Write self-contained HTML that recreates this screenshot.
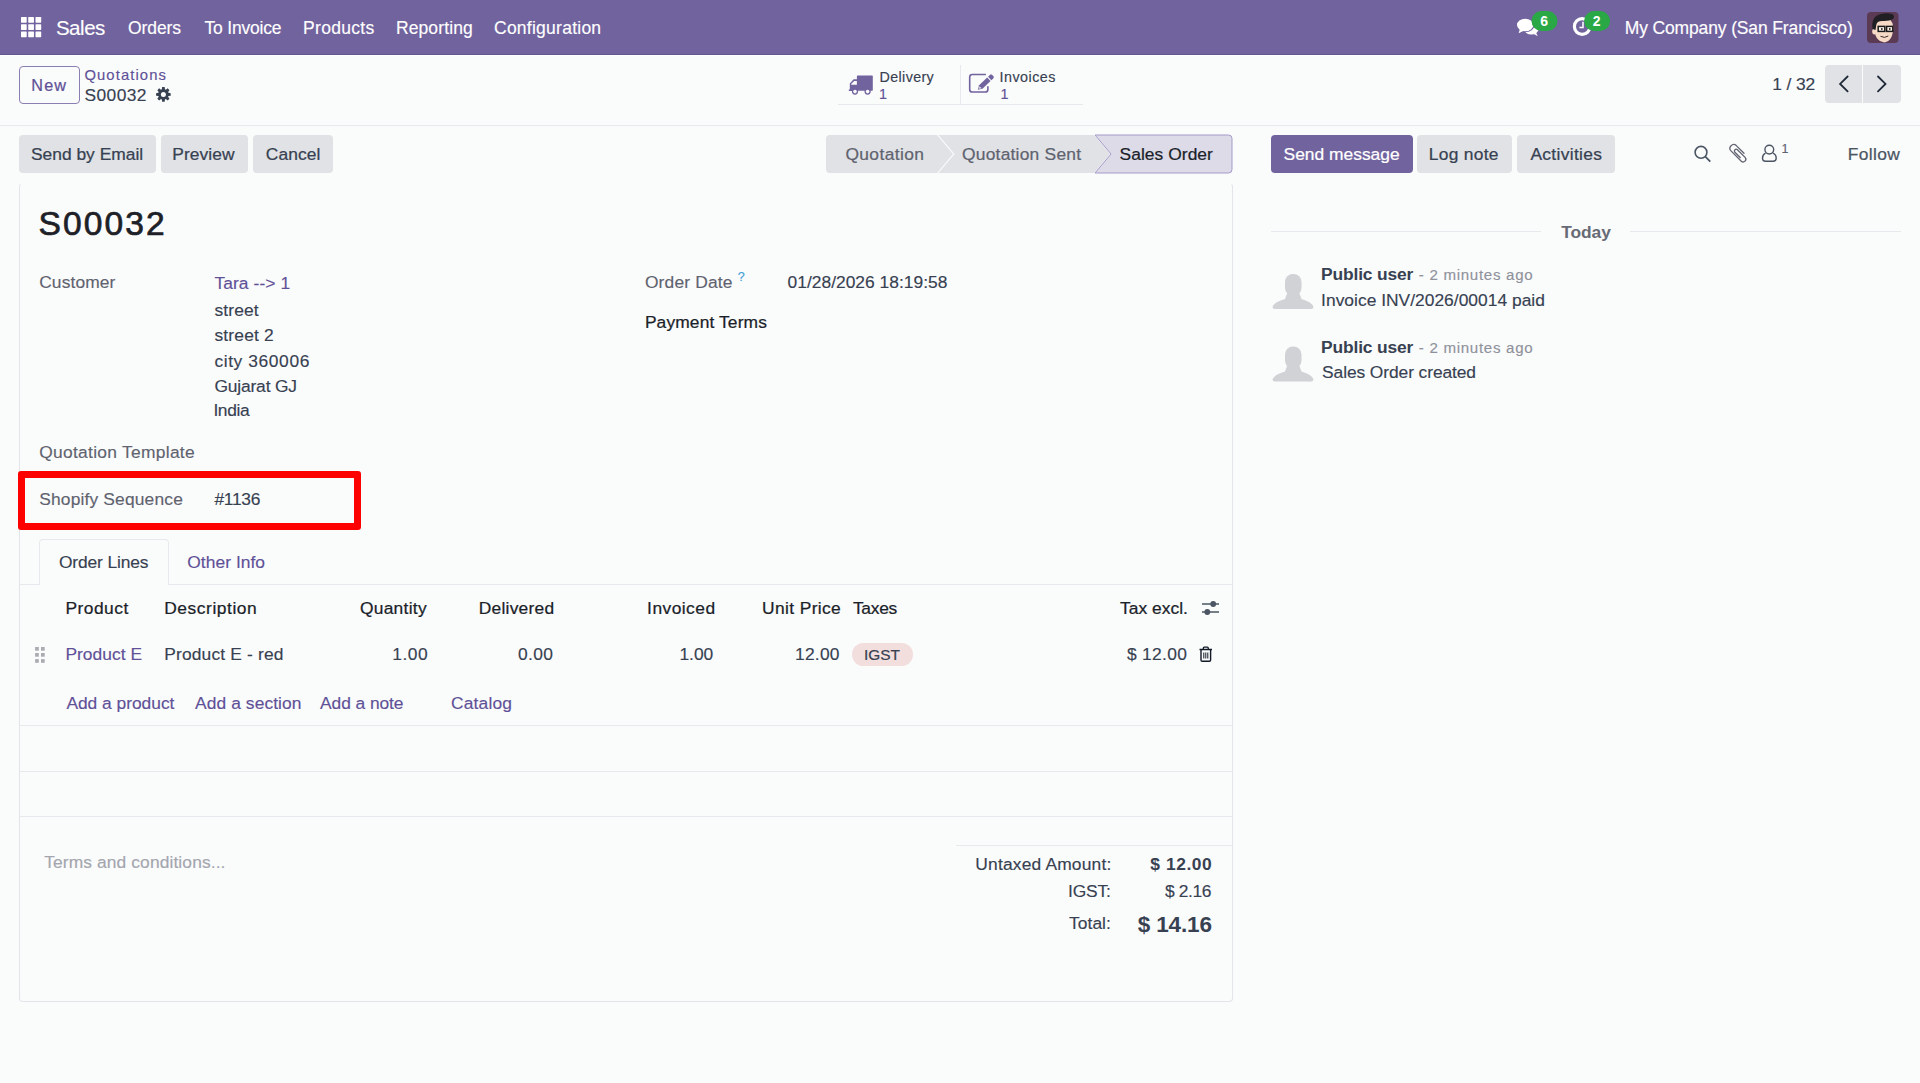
<!DOCTYPE html>
<html><head><meta charset="utf-8"><title>S00032</title><style>
html,body{margin:0;padding:0}
body{width:1920px;height:1083px;overflow:hidden;background:#fafbfb;position:relative;font-family:"Liberation Sans",sans-serif;color:#374151}
.s{position:absolute}
.t{position:absolute;white-space:nowrap;color:#374151;-webkit-text-stroke:0.15px currentColor}
.bl{display:inline-block;width:0;height:0;vertical-align:baseline}
svg{position:absolute;left:0;top:0}
.nav{color:#fff}
.badge{color:#fff;font-weight:bold;-webkit-text-stroke:0px}
.link{color:#5f5197}
.md{-webkit-text-stroke:0.24px currentColor}
.bold{font-weight:bold;-webkit-text-stroke:0px}
.gray{color:#5f636f}
.gray2{color:#4b5563}
.gray3{color:#676b75}
.dark{color:#1a1f29}
.white{color:#fff}
.muted{color:#8f929b}
.light{color:#a3a6ae}
.blue{color:#3f9fd6}
.title{color:#1d2127;-webkit-text-stroke:0.7px #1d2127}
.tag{color:#374151}
.big{color:#374151}
</style></head>
<body>
<div class="s" style="left:0px;top:0px;width:1920px;height:54px;background:#71639e"></div><div class="s" style="left:0px;top:54px;width:1920px;height:1px;background:#64578f"></div><div class="s" style="left:0px;top:55px;width:1920px;height:1px;background:#ffffff"></div><div class="s" style="left:0px;top:125px;width:1920px;height:1px;background:#e7e9ed"></div><div class="s" style="left:19px;top:66px;width:61px;height:38px;border:1px solid #8a7fb3;border-radius:4px;box-sizing:border-box"></div><div class="s" style="left:838px;top:104px;width:245px;height:1px;background:#e7e9ed"></div><div class="s" style="left:960px;top:65px;width:1px;height:39px;background:#e7e9ed"></div><div class="s" style="left:1825px;top:65px;width:37px;height:38px;background:#e0e2e6;border-radius:4px 0 0 4px"></div><div class="s" style="left:1863px;top:65px;width:38px;height:38px;background:#e0e2e6;border-radius:0 4px 4px 0"></div><div class="s" style="left:19px;top:135px;width:137px;height:38px;background:#e0e2e6;border-radius:4px"></div><div class="s" style="left:161px;top:135px;width:87px;height:38px;background:#e0e2e6;border-radius:4px"></div><div class="s" style="left:253px;top:135px;width:80px;height:38px;background:#e0e2e6;border-radius:4px"></div><div class="s" style="left:1271px;top:135px;width:142px;height:38px;background:#71639e;border-radius:4px"></div><div class="s" style="left:1417px;top:135px;width:95px;height:38px;background:#e0e2e6;border-radius:4px"></div><div class="s" style="left:1517px;top:135px;width:98px;height:38px;background:#e0e2e6;border-radius:4px"></div><div class="s" style="left:1271px;top:231px;width:270px;height:1px;background:#e7e9ed"></div><div class="s" style="left:1630px;top:231px;width:271px;height:1px;background:#e7e9ed"></div><div class="s" style="left:19px;top:183px;width:1214px;height:819px;border:1px solid #e3e5ea;border-top-color:transparent;border-radius:4px;box-sizing:border-box"></div><div class="s" style="left:18px;top:471px;width:343px;height:59px;border:7px solid #ff0000;border-radius:3px;box-sizing:border-box"></div><div class="s" style="left:20px;top:584px;width:1212px;height:1px;background:#e7e9ed"></div><div class="s" style="left:39px;top:539px;width:130px;height:46px;border:1px solid #e7e9ed;border-bottom:none;border-radius:4px 4px 0 0;box-sizing:border-box;background:#fafbfb"></div><div class="s" style="left:20px;top:725px;width:1212px;height:1px;background:#e7e9ed"></div><div class="s" style="left:20px;top:771px;width:1212px;height:1px;background:#e7e9ed"></div><div class="s" style="left:20px;top:816px;width:1212px;height:1px;background:#e7e9ed"></div><div class="s" style="left:956px;top:845px;width:276px;height:1px;background:#e7e9ed"></div><div class="s" style="left:852px;top:643px;width:61px;height:23px;background:#f3dede;border-radius:12px"></div>
<svg width="1920" height="1083" viewBox="0 0 1920 1083">
<rect x="21.00" y="17.00" width="5.7" height="5.7" rx="0.6" fill="#fff"/><rect x="21.00" y="24.25" width="5.7" height="5.7" rx="0.6" fill="#fff"/><rect x="21.00" y="31.50" width="5.7" height="5.7" rx="0.6" fill="#fff"/><rect x="28.25" y="17.00" width="5.7" height="5.7" rx="0.6" fill="#fff"/><rect x="28.25" y="24.25" width="5.7" height="5.7" rx="0.6" fill="#fff"/><rect x="28.25" y="31.50" width="5.7" height="5.7" rx="0.6" fill="#fff"/><rect x="35.50" y="17.00" width="5.7" height="5.7" rx="0.6" fill="#fff"/><rect x="35.50" y="24.25" width="5.7" height="5.7" rx="0.6" fill="#fff"/><rect x="35.50" y="31.50" width="5.7" height="5.7" rx="0.6" fill="#fff"/><g fill="#fff">
<ellipse cx="1531.3" cy="29.3" rx="7.2" ry="5.3"/>
<path d="M1533,33.5 L1537.8,36.2 L1535.5,31.5 Z"/>
</g>
<ellipse cx="1525.2" cy="25" rx="9.2" ry="7.3" fill="#71639e"/>
<path d="M1519.2,29.5 L1517.8,34 L1524,31.2 Z" fill="#71639e" stroke="#71639e" stroke-width="1.2"/>
<g fill="#fff">
<ellipse cx="1525.2" cy="25" rx="8.2" ry="6.3"/>
<path d="M1519.8,29.5 L1518.6,33.3 L1523.8,30.8 Z"/>
</g><circle cx="1582.2" cy="26.5" r="7.8" fill="none" stroke="#fff" stroke-width="3.2"/>
<path d="M1583,21.8 V27.6 H1579.4" fill="none" stroke="#fff" stroke-width="1.5"/><rect x="1531.5" y="11.1" width="26" height="19.8" rx="9.9" fill="#2aa845"/><rect x="1584.1" y="11.1" width="26" height="19.8" rx="9.9" fill="#2aa845"/><rect x="1867" y="12" width="31.5" height="31" rx="4" fill="#5b3a54"/>
<path d="M1874.5,27 Q1874,41 1884.5,42.4 Q1893,41 1893.3,27 Q1892.5,18 1884,18 Q1875,18 1874.5,27Z" fill="#f7dbc6"/>
<ellipse cx="1874.3" cy="31.5" rx="2.1" ry="2.9" fill="#f7dbc6"/>
<path d="M1872.5,29 Q1871,18 1878,15 Q1886,12 1893,14.5 Q1895,16.5 1893,19 Q1889,21.5 1882,21 Q1877.5,21 1876.5,24 Q1876,27 1875.5,30 Z" fill="#1f1f24"/>
<rect x="1878.2" y="26.4" width="6.6" height="5" fill="#fdf3ea" stroke="#1a1a1a" stroke-width="1.5"/>
<rect x="1886.6" y="26.4" width="6.2" height="5" fill="#fdf3ea" stroke="#1a1a1a" stroke-width="1.5"/>
<circle cx="1881.8" cy="29" r="0.9" fill="#222"/><circle cx="1889.8" cy="29" r="0.9" fill="#222"/>
<path d="M1880.5,36.3 Q1884.5,38.6 1888.3,36" fill="none" stroke="#3a2a2a" stroke-width="1"/><path d="M161.83,89.34 L162.15,87.11 L164.65,87.11 L164.97,89.34 L165.87,89.71 L167.67,88.36 L169.44,90.13 L168.09,91.93 L168.46,92.83 L170.69,93.15 L170.69,95.65 L168.46,95.97 L168.09,96.87 L169.44,98.67 L167.67,100.44 L165.87,99.09 L164.97,99.46 L164.65,101.69 L162.15,101.69 L161.83,99.46 L160.93,99.09 L159.13,100.44 L157.36,98.67 L158.71,96.87 L158.34,95.97 L156.11,95.65 L156.11,93.15 L158.34,92.83 L158.71,91.93 L157.36,90.13 L159.13,88.36 L160.93,89.71 Z" fill="#374151"/><circle cx="163.4" cy="94.4" r="2.5" fill="#fafbfb"/><g fill="#71639e">
<rect x="856.9" y="75.4" width="15.9" height="15.4" rx="0.7"/>
<path d="M848.8,91 V89.6 H849.8 V83.6 L853.6,79.2 H857.5 V91 Z"/>
<circle cx="855" cy="91.6" r="3.1"/><circle cx="867.6" cy="91.6" r="3.1"/>
</g>
<path d="M851.2,84.7 V83.9 L854.2,80.9 H856.9 V84.7 Z" fill="#fafbfb"/>
<circle cx="855" cy="91.6" r="1.8" fill="#fafbfb"/><circle cx="867.6" cy="91.6" r="1.8" fill="#fafbfb"/><path d="M985.9,74.5 H972.3 Q969.7,74.5 969.7,77.1 V89.4 Q969.7,92 972.3,92 H985.3 Q987.9,92 987.9,89.4 V86.3" fill="none" stroke="#71639e" stroke-width="1.6"/>
<path d="M977.90,89.80 L979.12,85.30 L987.20,77.54 L990.52,81.00 L982.45,88.76Z" fill="#71639e"/><path d="M988.06,76.71 L990.37,74.49 L991.78,74.52 L993.72,76.54 L993.69,77.95 L991.39,80.17Z" fill="#71639e"/><path d="M979.05,88.69 L979.59,86.37 L981.40,88.24Z" fill="#fafbfb"/><path d="M1847.6,76.5 L1840.1,83.9 L1847.6,91.3" fill="none" stroke="#1f2937" stroke-width="1.8" stroke-linecap="round" stroke-linejoin="miter"/>
<path d="M1878,76.5 L1885.5,83.9 L1878,91.3" fill="none" stroke="#1f2937" stroke-width="1.8" stroke-linecap="round" stroke-linejoin="miter"/><path d="M830,135 H937 L953,154 L937,173 H830 Q826,173 826,169 V139 Q826,135 830,135Z" fill="#e0e2e6"/>
<path d="M938.5,135 H1094 L1110,154 L1094,173 H938.5 L954.5,154 Z" fill="#e0e2e6"/>
<path d="M1095,135 H1228.5 Q1232,135 1232,138.5 V169.5 Q1232,173 1228.5,173 H1095 L1111,154 Z" fill="#dedbe9" stroke="#a49bc9" stroke-width="1"/><circle cx="1701" cy="152.3" r="5.9" fill="none" stroke="#4b5563" stroke-width="1.6"/>
<path d="M1705.3,156.6 L1710.3,161.6" stroke="#4b5563" stroke-width="1.8"/>
<path d="M1744,153.3 L1736.3,145.6 A3.75,3.75 0 0 0 1731,150.9 L1741.3,161.2 A2.69,2.69 0 0 0 1745.1,157.4 L1737.4,149.7 A1.77,1.77 0 0 0 1734.9,152.2 L1740.2,157.5" fill="none" stroke="#5f636f" stroke-width="1.3" stroke-linecap="round"/>
<circle cx="1769.3" cy="149.6" r="4.4" fill="none" stroke="#4b5563" stroke-width="1.4"/>
<path d="M1765.5,153.2 Q1762.5,154.5 1762.5,158.3 Q1762.5,161.3 1765.5,161.3 H1773 Q1776.2,161.3 1776.2,158.3 Q1776.2,154.5 1773,153.2" fill="none" stroke="#4b5563" stroke-width="1.4"/><g fill="#d1d2d6"><rect x="1285" y="273.9" width="16.5" height="22" rx="8"/>
<path d="M1288,290.9 L1285,298.9 Q1274,301.9 1272.5,306.9 Q1272.5,308.9 1275,308.9 H1311 Q1313.5,308.9 1313.5,306.9 Q1312,301.9 1301.5,298.9 L1298.5,290.9 Z"/></g><g fill="#d1d2d6"><rect x="1285" y="346.5" width="16.5" height="22" rx="8"/>
<path d="M1288,363.5 L1285,371.5 Q1274,374.5 1272.5,379.5 Q1272.5,381.5 1275,381.5 H1311 Q1313.5,381.5 1313.5,379.5 Q1312,374.5 1301.5,371.5 L1298.5,363.5 Z"/></g><rect x="35.1" y="647.0" width="3.7" height="3.7" fill="#aaacb2"/><rect x="35.1" y="653.0" width="3.7" height="3.7" fill="#aaacb2"/><rect x="35.1" y="659.1" width="3.7" height="3.7" fill="#aaacb2"/><rect x="41.0" y="647.0" width="3.7" height="3.7" fill="#aaacb2"/><rect x="41.0" y="653.0" width="3.7" height="3.7" fill="#aaacb2"/><rect x="41.0" y="659.1" width="3.7" height="3.7" fill="#aaacb2"/><path d="M1202,604 H1219 M1202,612 H1219" stroke="#4b5563" stroke-width="1.4"/>
<circle cx="1213.2" cy="604" r="2.9" fill="#4b5563"/><circle cx="1207.3" cy="612" r="2.9" fill="#4b5563"/><path d="M1199.5,649.5 H1212" stroke="#111827" stroke-width="1.5"/>
<path d="M1203.3,649.3 V648.2 Q1203.3,647.2 1204.3,647.2 H1207.3 Q1208.3,647.2 1208.3,648.2 V649.3" fill="none" stroke="#111827" stroke-width="1.3"/>
<path d="M1201,650 V660 Q1201,661.3 1202.3,661.3 H1209.3 Q1210.6,661.3 1210.6,660 V650" fill="none" stroke="#111827" stroke-width="1.4"/>
<path d="M1203.8,652.5 V658.5 M1205.8,652.5 V658.5 M1207.8,652.5 V658.5" stroke="#111827" stroke-width="1"/>
</svg>
<div class="t brand nav" id="brand" style="left:55.89px;top:18.21px;font-size:20.5px;line-height:20.5px;letter-spacing:-0.450px">Sales<i class="bl"></i></div>
<div class="t nav" id="m1" style="left:128.00px;top:19.50px;font-size:17.5px;line-height:17.5px;letter-spacing:-0.080px">Orders<i class="bl"></i></div>
<div class="t nav" id="m2" style="left:204.60px;top:19.50px;font-size:17.5px;line-height:17.5px;letter-spacing:-0.221px">To Invoice<i class="bl"></i></div>
<div class="t nav" id="m3" style="left:303.10px;top:19.50px;font-size:17.5px;line-height:17.5px;letter-spacing:0.286px">Products<i class="bl"></i></div>
<div class="t nav" id="m4" style="left:395.89px;top:19.50px;font-size:17.5px;line-height:17.5px;letter-spacing:0.125px">Reporting<i class="bl"></i></div>
<div class="t nav" id="m5" style="left:494.00px;top:19.50px;font-size:17.5px;line-height:17.5px;letter-spacing:0.251px">Configuration<i class="bl"></i></div>
<div class="t nav" id="comp" style="left:1624.69px;top:20.00px;font-size:17.5px;line-height:17.5px;letter-spacing:-0.136px">My Company (San Francisco)<i class="bl"></i></div>
<div class="t badge" id="b6" style="left:1540.19px;top:13.91px;font-size:14px;line-height:14px">6<i class="bl"></i></div>
<div class="t badge" id="b2" style="left:1592.79px;top:13.91px;font-size:14px;line-height:14px">2<i class="bl"></i></div>
<div class="t btn md link" id="new" style="left:31.29px;top:77.41px;font-size:16.2px;line-height:16.2px;letter-spacing:1.200px">New<i class="bl"></i></div>
<div class="t bcs link" id="bc" style="left:84.39px;top:67.80px;font-size:14.8px;line-height:14.8px;letter-spacing:1.109px">Quotations<i class="bl"></i></div>
<div class="t body" id="bc2" style="left:84.39px;top:86.61px;font-size:17.4px;line-height:17.4px;letter-spacing:0.440px">S00032<i class="bl"></i></div>
<div class="t stat" id="dl" style="left:879.50px;top:70.11px;font-size:14.3px;line-height:14.3px;letter-spacing:0.376px">Delivery<i class="bl"></i></div>
<div class="t stat link" id="dl1" style="left:879.00px;top:86.50px;font-size:14.3px;line-height:14.3px">1<i class="bl"></i></div>
<div class="t stat" id="inv" style="left:999.60px;top:70.11px;font-size:14.3px;line-height:14.3px;letter-spacing:0.467px">Invoices<i class="bl"></i></div>
<div class="t stat link" id="inv1" style="left:1000.39px;top:86.50px;font-size:14.3px;line-height:14.3px">1<i class="bl"></i></div>
<div class="t body" id="pg" style="left:1772.25px;top:75.71px;font-size:17.4px;line-height:17.4px;letter-spacing:-0.100px">1 / 32<i class="bl"></i></div>
<div class="t body md" id="sbe" style="left:31.00px;top:145.91px;font-size:17.4px;line-height:17.4px">Send by Email<i class="bl"></i></div>
<div class="t body md" id="prv" style="left:172.25px;top:145.91px;font-size:17.4px;line-height:17.4px;letter-spacing:0.089px">Preview<i class="bl"></i></div>
<div class="t body md" id="cnl" style="left:265.75px;top:145.91px;font-size:17.4px;line-height:17.4px;letter-spacing:0.100px">Cancel<i class="bl"></i></div>
<div class="t body md gray" id="st1" style="left:845.39px;top:145.91px;font-size:17.4px;line-height:17.4px;letter-spacing:0.400px">Quotation<i class="bl"></i></div>
<div class="t body md gray" id="st2" style="left:962.00px;top:145.91px;font-size:17.4px;line-height:17.4px;letter-spacing:0.231px">Quotation Sent<i class="bl"></i></div>
<div class="t body md dark" id="st3" style="left:1119.50px;top:145.91px;font-size:17.4px;line-height:17.4px;letter-spacing:0.060px">Sales Order<i class="bl"></i></div>
<div class="t body md white" id="sm" style="left:1283.60px;top:145.91px;font-size:17.4px;line-height:17.4px;letter-spacing:-0.001px">Send message<i class="bl"></i></div>
<div class="t body md" id="ln" style="left:1428.79px;top:145.91px;font-size:17.4px;line-height:17.4px;letter-spacing:0.286px">Log note<i class="bl"></i></div>
<div class="t body md" id="act" style="left:1530.39px;top:145.91px;font-size:17.4px;line-height:17.4px;letter-spacing:0.334px">Activities<i class="bl"></i></div>
<div class="t xs gray" id="fol1" style="left:1781.60px;top:142.91px;font-size:12.5px;line-height:12.5px">1<i class="bl"></i></div>
<div class="t body md gray2" id="fol" style="left:1847.79px;top:145.91px;font-size:17.4px;line-height:17.4px;letter-spacing:0.360px">Follow<i class="bl"></i></div>
<div class="t body bold gray3" id="today" style="left:1561.19px;top:223.71px;font-size:17.4px;line-height:17.4px;letter-spacing:-0.050px">Today<i class="bl"></i></div>
<div class="t body bold" id="pu1" style="left:1321.10px;top:266.11px;font-size:17.4px;line-height:17.4px;letter-spacing:-0.160px">Public user<i class="bl"></i></div>
<div class="t sm muted" id="ago1" style="left:1418.79px;top:267.30px;font-size:15.1px;line-height:15.1px;letter-spacing:0.700px">- 2 minutes ago<i class="bl"></i></div>
<div class="t body" id="msg1" style="left:1321.10px;top:291.80px;font-size:17.4px;line-height:17.4px;letter-spacing:0.017px">Invoice INV/2026/00014 paid<i class="bl"></i></div>
<div class="t body bold" id="pu2" style="left:1321.10px;top:338.71px;font-size:17.4px;line-height:17.4px;letter-spacing:-0.160px">Public user<i class="bl"></i></div>
<div class="t sm muted" id="ago2" style="left:1418.79px;top:339.91px;font-size:15.1px;line-height:15.1px;letter-spacing:0.700px">- 2 minutes ago<i class="bl"></i></div>
<div class="t body" id="msg2" style="left:1322.10px;top:363.91px;font-size:17.4px;line-height:17.4px;letter-spacing:-0.094px">Sales Order created<i class="bl"></i></div>
<div class="t title" id="title" style="left:38.50px;top:207.00px;font-size:33.6px;line-height:33.6px;letter-spacing:2.100px">S00032<i class="bl"></i></div>
<div class="t body gray" id="cust" style="left:39.19px;top:273.61px;font-size:17.4px;line-height:17.4px;letter-spacing:0.117px">Customer<i class="bl"></i></div>
<div class="t body link" id="tara" style="left:214.39px;top:274.61px;font-size:17.4px;line-height:17.4px;letter-spacing:0.108px">Tara --&gt; 1<i class="bl"></i></div>
<div class="t body" id="a1" style="left:214.39px;top:302.00px;font-size:17.4px;line-height:17.4px;letter-spacing:0.160px">street<i class="bl"></i></div>
<div class="t body" id="a2" style="left:214.39px;top:327.41px;font-size:17.4px;line-height:17.4px;letter-spacing:0.197px">street 2<i class="bl"></i></div>
<div class="t body" id="a3" style="left:214.39px;top:352.80px;font-size:17.4px;line-height:17.4px;letter-spacing:0.600px">city 360006<i class="bl"></i></div>
<div class="t body" id="a4" style="left:214.39px;top:377.71px;font-size:17.4px;line-height:17.4px;letter-spacing:-0.157px">Gujarat GJ<i class="bl"></i></div>
<div class="t body" id="a5" style="left:213.39px;top:402.30px;font-size:17.4px;line-height:17.4px;letter-spacing:-0.350px">India<i class="bl"></i></div>
<div class="t body gray" id="qt" style="left:39.19px;top:444.00px;font-size:17.4px;line-height:17.4px;letter-spacing:0.293px">Quotation Template<i class="bl"></i></div>
<div class="t body gray" id="ss" style="left:39.19px;top:491.01px;font-size:17.4px;line-height:17.4px;letter-spacing:0.165px">Shopify Sequence<i class="bl"></i></div>
<div class="t body" id="ssv" style="left:214.39px;top:491.01px;font-size:17.4px;line-height:17.4px;letter-spacing:-0.250px">#1136<i class="bl"></i></div>
<div class="t body gray" id="od" style="left:644.89px;top:273.71px;font-size:17.4px;line-height:17.4px;letter-spacing:0.175px">Order Date<i class="bl"></i></div>
<div class="t xs blue" id="q" style="left:737.69px;top:270.71px;font-size:12.5px;line-height:12.5px">?<i class="bl"></i></div>
<div class="t body" id="odv" style="left:787.60px;top:273.71px;font-size:17.4px;line-height:17.4px;letter-spacing:0.010px">01/28/2026 18:19:58<i class="bl"></i></div>
<div class="t body md dark" id="pt" style="left:644.89px;top:314.21px;font-size:17.4px;line-height:17.4px;letter-spacing:0.128px">Payment Terms<i class="bl"></i></div>
<div class="t body" id="tab1" style="left:58.89px;top:553.91px;font-size:17.4px;line-height:17.4px;letter-spacing:-0.120px">Order Lines<i class="bl"></i></div>
<div class="t body link" id="tab2" style="left:187.29px;top:553.91px;font-size:17.4px;line-height:17.4px;letter-spacing:0.047px">Other Info<i class="bl"></i></div>
<div class="t body md dark" id="h1" style="left:65.39px;top:599.71px;font-size:17.4px;line-height:17.4px;letter-spacing:0.500px">Product<i class="bl"></i></div>
<div class="t body md dark" id="h2" style="left:164.19px;top:599.71px;font-size:17.4px;line-height:17.4px;letter-spacing:0.560px">Description<i class="bl"></i></div>
<div class="t body md dark" id="h3" style="left:359.89px;top:599.71px;font-size:17.4px;line-height:17.4px;letter-spacing:0.283px">Quantity<i class="bl"></i></div>
<div class="t body md dark" id="h4" style="left:478.69px;top:599.71px;font-size:17.4px;line-height:17.4px;letter-spacing:0.250px">Delivered<i class="bl"></i></div>
<div class="t body md dark" id="h5" style="left:647.10px;top:599.71px;font-size:17.4px;line-height:17.4px;letter-spacing:0.455px">Invoiced<i class="bl"></i></div>
<div class="t body md dark" id="h6" style="left:762.10px;top:599.71px;font-size:17.4px;line-height:17.4px;letter-spacing:0.363px">Unit Price<i class="bl"></i></div>
<div class="t body md dark" id="h7" style="left:852.89px;top:599.71px;font-size:17.4px;line-height:17.4px;letter-spacing:-0.250px">Taxes<i class="bl"></i></div>
<div class="t body md dark" id="h8" style="left:1120.00px;top:599.71px;font-size:17.4px;line-height:17.4px;letter-spacing:0.038px">Tax excl.<i class="bl"></i></div>
<div class="t body link" id="r1" style="left:65.39px;top:645.60px;font-size:17.4px;line-height:17.4px;letter-spacing:0.037px">Product E<i class="bl"></i></div>
<div class="t body" id="r2" style="left:164.19px;top:645.60px;font-size:17.4px;line-height:17.4px;letter-spacing:0.168px">Product E - red<i class="bl"></i></div>
<div class="t body" id="r3" style="left:392.29px;top:645.80px;font-size:17.4px;line-height:17.4px;letter-spacing:0.526px">1.00<i class="bl"></i></div>
<div class="t body" id="r4" style="left:517.89px;top:645.80px;font-size:17.4px;line-height:17.4px;letter-spacing:0.403px">0.00<i class="bl"></i></div>
<div class="t body" id="r5" style="left:679.39px;top:645.80px;font-size:17.4px;line-height:17.4px">1.00<i class="bl"></i></div>
<div class="t body" id="r6" style="left:795.00px;top:645.80px;font-size:17.4px;line-height:17.4px;letter-spacing:0.250px">12.00<i class="bl"></i></div>
<div class="t tag md" id="r7" style="left:864.10px;top:646.91px;font-size:15.4px;line-height:15.4px">IGST<i class="bl"></i></div>
<div class="t body" id="r8" style="left:1126.89px;top:645.60px;font-size:17.4px;line-height:17.4px;letter-spacing:0.332px">$ 12.00<i class="bl"></i></div>
<div class="t body link" id="ad1" style="left:66.39px;top:695.21px;font-size:17.4px;line-height:17.4px;letter-spacing:-0.021px">Add a product<i class="bl"></i></div>
<div class="t body link" id="ad2" style="left:195.10px;top:695.21px;font-size:17.4px;line-height:17.4px;letter-spacing:0.083px">Add a section<i class="bl"></i></div>
<div class="t body link" id="ad3" style="left:320.10px;top:695.21px;font-size:17.4px;line-height:17.4px;letter-spacing:-0.082px">Add a note<i class="bl"></i></div>
<div class="t body link" id="ad4" style="left:451.00px;top:695.21px;font-size:17.4px;line-height:17.4px;letter-spacing:0.167px">Catalog<i class="bl"></i></div>
<div class="t body light" id="terms" style="left:44.19px;top:853.80px;font-size:17.4px;line-height:17.4px;letter-spacing:0.110px">Terms and conditions...<i class="bl"></i></div>
<div class="t body" id="ua" style="left:975.29px;top:856.25px;font-size:17.4px;line-height:17.4px;letter-spacing:0.183px">Untaxed Amount:<i class="bl"></i></div>
<div class="t body bold" id="uav" style="left:1150.29px;top:856.25px;font-size:17.4px;line-height:17.4px;letter-spacing:0.571px">$ 12.00<i class="bl"></i></div>
<div class="t body" id="ig" style="left:1068.10px;top:883.25px;font-size:17.4px;line-height:17.4px;letter-spacing:-0.200px">IGST:<i class="bl"></i></div>
<div class="t body" id="igv" style="left:1165.10px;top:883.25px;font-size:17.4px;line-height:17.4px;letter-spacing:-0.400px">$ 2.16<i class="bl"></i></div>
<div class="t body" id="tot" style="left:1069.10px;top:914.75px;font-size:17.4px;line-height:17.4px;letter-spacing:0.040px">Total:<i class="bl"></i></div>
<div class="t big bold" id="totv" style="left:1137.69px;top:913.61px;font-size:22.5px;line-height:22.5px;letter-spacing:-0.137px">$ 14.16<i class="bl"></i></div>
</body></html>
